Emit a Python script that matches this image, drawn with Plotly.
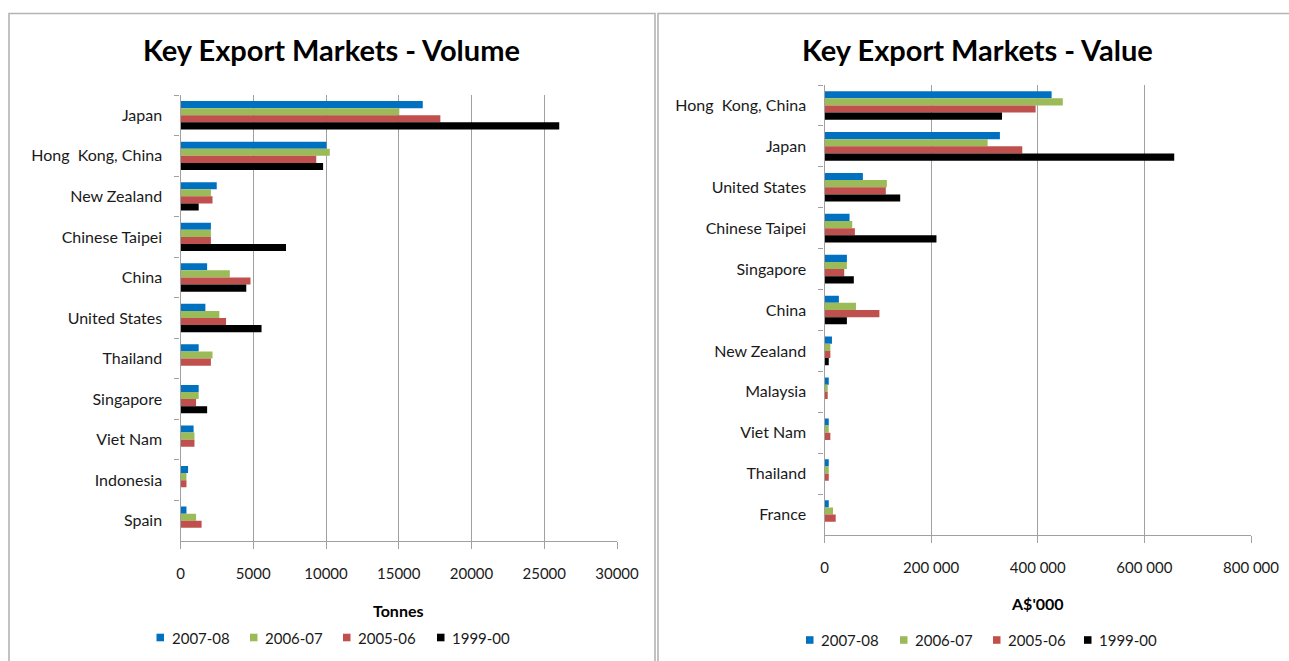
import plotly.graph_objects as go

# ---- data -------------------------------------------------------------
series_names = ["2007-08", "2006-07", "2005-06", "1999-00"]
series_colors = ["#0070C0", "#9BBB59", "#C0504D", "#000000"]

volume_markets = ["Japan", "Hong  Kong, China", "New Zealand", "Chinese Taipei",
                  "China", "United States", "Thailand", "Singapore",
                  "Viet Nam", "Indonesia", "Spain"]
# tonnes
volume_2007_08 = [16650, 10030, 2490, 2090, 1830, 1710, 1250, 1250, 900, 520, 410]
volume_2006_07 = [15040, 10260, 2090, 2090, 3390, 2670, 2200, 1250, 960, 410, 1070]
volume_2005_06 = [17860, 9330, 2200, 2090, 4810, 3130, 2090, 1070, 960, 410, 1450]
volume_1999_00 = [26030, 9800, 1250, 7250, 4520, 5570, 0, 1830, 0, 0, 0]

value_markets = ["Hong  Kong, China", "Japan", "United States", "Chinese Taipei",
                 "Singapore", "China", "New Zealand", "Malaysia", "Viet Nam",
                 "Thailand", "France"]
# A$'000
value_2007_08 = [426000, 329000, 72000, 47000, 42000, 27000, 14000, 8000, 8000, 8000, 8000]
value_2006_07 = [447000, 306000, 117000, 52000, 42000, 59000, 11000, 6000, 8000, 8000, 16000]
value_2005_06 = [396000, 371000, 115000, 57000, 37000, 103000, 11000, 6000, 11000, 8000, 21000]
value_1999_00 = [333000, 656000, 142000, 210000, 55000, 42000, 8000, 0, 0, 0, 0]

volume_ticks = [0, 5000, 10000, 15000, 20000, 25000, 30000]
volume_ticktext = ["0", "5000", "10000", "15000", "20000", "25000", "30000"]
value_ticks = [0, 200000, 400000, 600000, 800000]
value_ticktext = ["0", "200 000", "400 000", "600 000", "800 000"]

# ---- page geometry (pixels) ------------------------------------------
W, H = 1289, 661


def px(x):
    return x / W


def py(y):
    return 1 - y / H


FONT = "Lato"
TEXT = "#1a1a1a"
GRID = "#a0a0a0"

fig = go.Figure()

volume_series = [volume_2007_08, volume_2006_07, volume_2005_06, volume_1999_00]
value_series = [value_2007_08, value_2006_07, value_2005_06, value_1999_00]

for name, color, vals in zip(series_names, series_colors, volume_series):
    fig.add_trace(go.Bar(y=volume_markets, x=vals, name=name, orientation="h",
                         marker=dict(color=color, line=dict(width=0)),
                         xaxis="x", yaxis="y", showlegend=False))

for name, color, vals in zip(series_names, series_colors, value_series):
    fig.add_trace(go.Bar(y=value_markets, x=vals, name=name, orientation="h",
                         marker=dict(color=color, line=dict(width=0)),
                         xaxis="x2", yaxis="y2", showlegend=False))

xaxis_common = dict(showgrid=True, gridcolor=GRID, gridwidth=1.3, zeroline=False,
                    showline=True, linecolor=GRID, linewidth=1.3,
                    ticks="outside", ticklen=7, tickcolor=GRID, tickwidth=1.3,
                    tickfont=dict(family=FONT, size=15, color=TEXT),
                    ticklabelstandoff=12, fixedrange=True, automargin=False)
yaxis_common = dict(type="category", showgrid=False, zeroline=False,
                    showline=True, linecolor=GRID, linewidth=1.3,
                    ticks="outside", ticklen=5, tickcolor=GRID, tickwidth=1.3,
                    tickson="boundaries",
                    tickfont=dict(family=FONT, size=16, color=TEXT),
                    ticklabelstandoff=14, fixedrange=True, automargin=False)

fig.update_layout(
    template="none",
    width=W, height=H, autosize=False,
    margin=dict(l=0, r=0, t=0, b=0, pad=0),
    paper_bgcolor="white", plot_bgcolor="white",
    barmode="group", bargap=0.3, bargroupgap=0,
    xaxis=dict(domain=[px(180.5), px(617)], range=[0, 30000],
               tickvals=volume_ticks, ticktext=volume_ticktext,
               anchor="y", **xaxis_common),
    yaxis=dict(domain=[py(541), py(95)], range=[10.5, -0.5],
               anchor="x", **yaxis_common),
    xaxis2=dict(domain=[px(824.5), px(1251)], range=[0, 800000],
                tickvals=value_ticks, ticktext=value_ticktext,
                anchor="y2", **xaxis_common),
    yaxis2=dict(domain=[py(535), py(85)], range=[10.5, -0.5],
                anchor="x2", **yaxis_common),
)

# chart area frames
frame = dict(type="rect", xref="paper", yref="paper",
             line=dict(color="#b4b4b4", width=1.6), fillcolor="rgba(0,0,0,0)",
             layer="below")
fig.add_shape(x0=px(9), x1=px(655), y0=py(700), y1=py(13.5), **frame)
fig.add_shape(x0=px(658), x1=px(1320), y0=py(700), y1=py(13.5), **frame)

annotations = []

# chart titles
annotations.append(dict(text="<b>Key Export Markets - Volume</b>", x=px(331), y=py(50),
                        font=dict(family=FONT, size=29, color="#000000")))
annotations.append(dict(text="<b>Key Export Markets - Value</b>", x=px(977), y=py(49),
                        font=dict(family=FONT, size=29, color="#000000")))

# axis titles
annotations.append(dict(text="<b>Tonnes</b>", x=px(398.5), y=py(610),
                        font=dict(family=FONT, size=16, color="#000000")))
annotations.append(dict(text="<b>A$'000</b>", x=px(1037.5), y=py(603),
                        font=dict(family=FONT, size=16, color="#000000")))

# legends: coloured square followed by the series label
legend_rows = [
    ([156.5, 250, 343, 437], 637.5),
    ([806, 900, 993, 1084], 640),
]
for xs, yc in legend_rows:
    for x0, name, color in zip(xs, series_names, series_colors):
        fig.add_shape(type="rect", xref="paper", yref="paper",
                      x0=px(x0), x1=px(x0 + 7.5), y0=py(yc + 3.8), y1=py(yc - 3.8),
                      fillcolor=color, line=dict(width=0))
        annotations.append(dict(text=name, x=px(x0 + 13), y=py(yc), xanchor="left",
                                font=dict(family=FONT, size=15, color=TEXT)))

for a in annotations:
    a.setdefault("xanchor", "center")
    a.update(xref="paper", yref="paper", yanchor="middle", showarrow=False)
fig.update_layout(annotations=annotations)

# the page itself carries no margin so the figure sits flush with the window
fig.write_html("out.html",
               post_script="document.body.style.margin='0';"
                           "document.body.style.overflow='hidden';")
